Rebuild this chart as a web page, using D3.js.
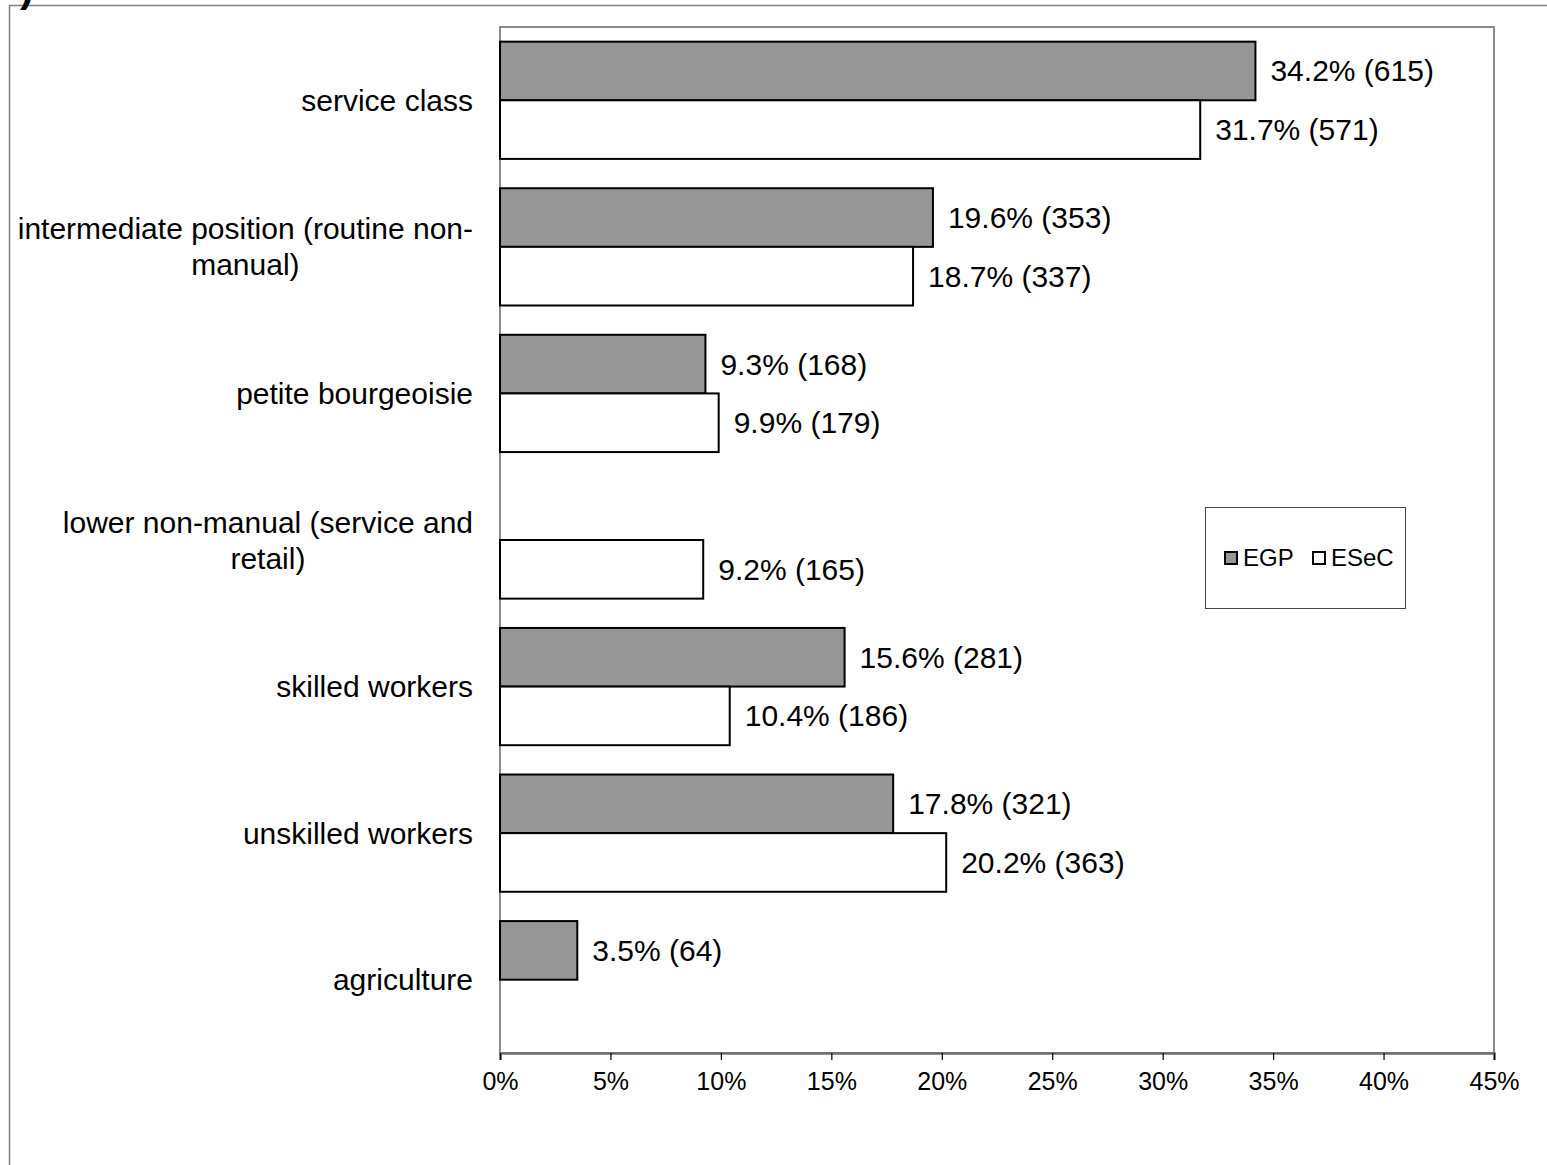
<!DOCTYPE html>
<html lang="en">
	<head>
		<meta charset="utf-8">
		<title>EGP vs ESeC</title>
		<script type="text/javascript" src="https://cdn.jsdelivr.net/npm/d3@7"></script>
		<style type="text/css">
			body { margin: 0; background: white; overflow: hidden; }
			text { font-family: "Liberation Sans", Arial, sans-serif; fill: #000; }
		</style>
	</head>
	<body>
		<div id="chart"></div>
		<script type="text/javascript">
			//Data
			var categories = ["service class", "intermediate position (routine non-manual)", "petite bourgeoisie",
				"lower non-manual (service and retail)", "skilled workers", "unskilled workers", "agriculture"];
			var categoryLines = [["service class"], ["intermediate position (routine non-", "manual)"], ["petite bourgeoisie"],
				["lower non-manual (service and", "retail)"], ["skilled workers"], ["unskilled workers"], ["agriculture"]];
			var series = ["EGP", "ESeC"];
			var egpPct = [34.2, 19.6, 9.3, null, 15.6, 17.8, 3.5];
			var egpN = [615, 353, 168, null, 281, 321, 64];
			var esecPct = [31.7, 18.7, 9.9, 9.2, 10.4, 20.2, null];
			var esecN = [571, 337, 179, 165, 186, 363, null];
			var xTicks = [0, 0.05, 0.10, 0.15, 0.20, 0.25, 0.30, 0.35, 0.40, 0.45];
			var colors = {EGP: "#969696", ESeC: "#ffffff"};

			var w = 1547, h = 1165;
			var plotL = 500, plotR = 1494, plotT = 27, plotB = 1053;

			var svg = d3.select("#chart").append("svg")
				.attr("width", w)
				.attr("height", h)
				.style("display", "block");

			//outer frame, only the left and top edges are inside the page
			svg.append("path")
				.attr("d", "M9.5," + h + "V5.5H" + w)
				.attr("fill", "none").attr("stroke", "#808080").attr("stroke-width", 1.5);

			//piece of the panel letter peeking in at the top
			svg.append("text")
				.attr("x", 20).attr("y", 1)
				.style("font-size", "42px").style("font-weight", "bold")
				.text(")");

			var x = d3.scaleLinear().domain([0, 0.45]).range([plotL, plotR]);
			var y = d3.scaleBand().domain(categories).range([plotT, plotB]).paddingInner(0.2).paddingOuter(0.1);
			var ySub = d3.scaleBand().domain(series).range([0, y.bandwidth()]);

			//plot area border
			svg.append("rect")
				.attr("x", plotL).attr("y", plotT)
				.attr("width", plotR - plotL).attr("height", plotB - plotT)
				.attr("fill", "none").attr("stroke", "#8c8c8c").attr("stroke-width", 2);

			var rows = [];
			categories.forEach(function(c, i) {
				rows.push({cat: c, s: "EGP", pct: egpPct[i], n: egpN[i]});
				rows.push({cat: c, s: "ESeC", pct: esecPct[i], n: esecN[i]});
			});
			rows = rows.filter(function(d) { return d.pct != null; });

			svg.selectAll("rect.bar")
				.data(rows)
				.enter()
				.append("rect")
				.attr("class", "bar")
				.attr("x", x(0))
				.attr("y", function(d) { return y(d.cat) + ySub(d.s); })
				.attr("width", function(d) { return x(d.pct / 100) - x(0); })
				.attr("height", ySub.bandwidth())
				.attr("fill", function(d) { return colors[d.s]; })
				.attr("stroke", "#000")
				.attr("stroke-width", 2);

			svg.selectAll("text.val")
				.data(rows)
				.enter()
				.append("text")
				.attr("class", "val")
				.attr("x", function(d) { return x(d.pct / 100) + 15; })
				.attr("y", function(d) { return y(d.cat) + ySub(d.s) + ySub.bandwidth() / 2; })
				.attr("dy", "0.35em")
				.style("font-size", "30px")
				.text(function(d) { return d.pct.toFixed(1) + "% (" + d.n + ")"; });

			//category labels, wrapped lines centred on each other
			categories.forEach(function(c, i) {
				var lines = categoryLines[i];
				var cy = y(c) + y.bandwidth() / 2;
				var g = svg.append("text")
					.style("font-size", "30px")
					.attr("text-anchor", "middle");
				var spans = lines.map(function(l, j) {
					return g.append("tspan")
						.attr("y", cy + (j - (lines.length - 1) / 2) * 36)
						.attr("dy", "0.35em")
						.text(l);
				});
				var maxW = d3.max(spans, function(s) { return s.node().getComputedTextLength(); });
				spans.forEach(function(s) { s.attr("x", 473 - maxW / 2); });
			});

			//x axis
			var axis = svg.append("g")
				.attr("transform", "translate(0," + plotB + ")")
				.call(d3.axisBottom(x).tickValues(xTicks).tickSize(7).tickPadding(12).tickFormat(d3.format(".0%")));
			axis.select(".domain").attr("stroke", "#6e6e6e").attr("stroke-width", 2.5);
			axis.selectAll(".tick line").attr("stroke", "#000").attr("stroke-width", 1.2);
			axis.selectAll(".tick text")
				.style("font-family", "'Liberation Sans', Arial, sans-serif")
				.style("font-size", "25px")
				.attr("fill", "#000");

			//legend
			var legend = svg.append("g");
			legend.append("rect")
				.attr("x", 1205.5).attr("y", 507.5)
				.attr("width", 200).attr("height", 101)
				.attr("fill", "#fff").attr("stroke", "#444").attr("stroke-width", 1);
			var legendX = [1225, 1313];
			series.forEach(function(s, i) {
				legend.append("rect")
					.attr("x", legendX[i]).attr("y", 552)
					.attr("width", 12).attr("height", 12)
					.attr("fill", colors[s]).attr("stroke", "#000").attr("stroke-width", 2);
				legend.append("text")
					.attr("x", legendX[i] + 18).attr("y", 558)
					.attr("dy", "0.35em")
					.style("font-size", "24px")
					.text(s);
			});
		</script>
	</body>
</html>
